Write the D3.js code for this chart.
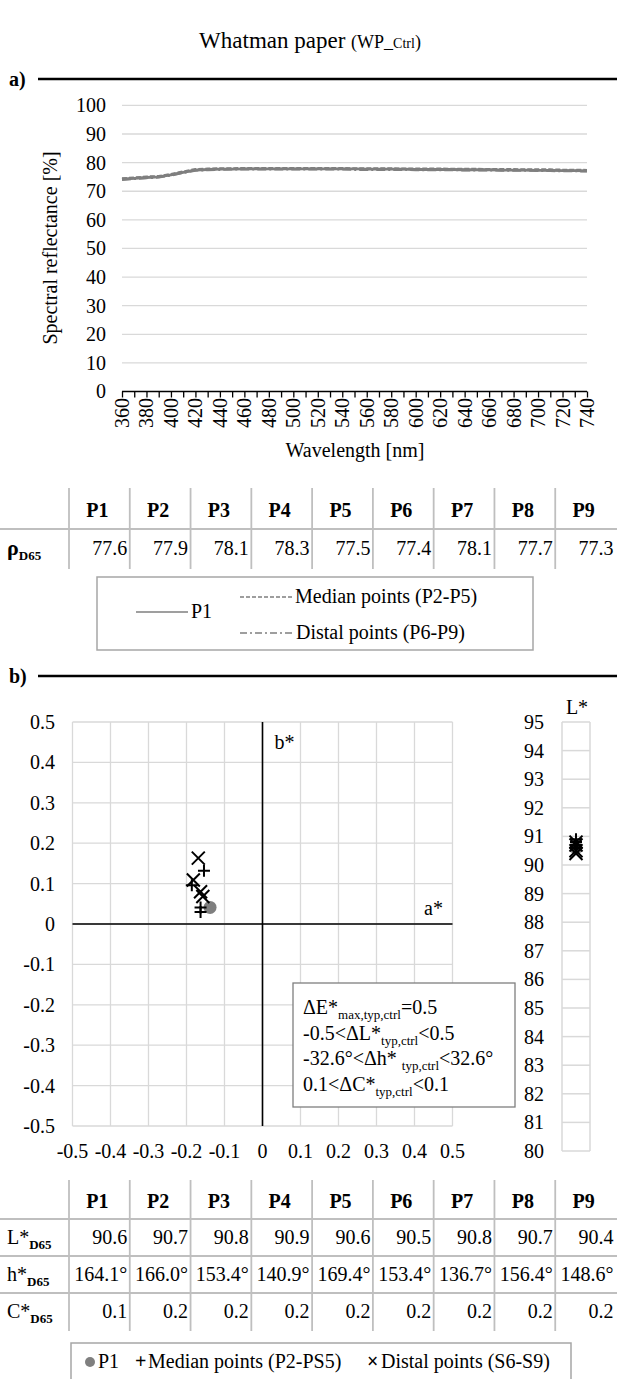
<!DOCTYPE html>
<html><head><meta charset="utf-8">
<script src="https://cdn.jsdelivr.net/npm/d3@7"></script>
<style>
body{margin:0;background:#fff}
svg{display:block}
text{font-family:"Liberation Serif","Times New Roman",serif;fill:#000}
</style>
</head><body>
<svg id="c" width="617" height="1379"></svg>
<script>
// ---------- DATA ----------
const wavelengths = [360,370,380,390,400,410,420,430,440,450,460,470,480,490,500,510,520,530,540,550,560,570,580,590,600,610,620,630,640,650,660,670,680,690,700,710,720,730,740];
const xTickLabels = [360,380,400,420,440,460,480,500,520,540,560,580,600,620,640,660,680,700,720,740];
const yTickLabels = [0,10,20,30,40,50,60,70,80,90,100];
const reflP1      = [74.2,74.5,74.8,75.0,75.7,76.6,77.4,77.6,77.7,77.7,77.8,77.8,77.8,77.8,77.8,77.8,77.8,77.8,77.8,77.8,77.7,77.7,77.7,77.7,77.6,77.6,77.6,77.6,77.5,77.5,77.5,77.4,77.4,77.4,77.3,77.3,77.2,77.2,77.1];
const reflMedian  = [74.4,74.7,75.0,75.2,75.9,76.8,77.6,77.8,77.9,77.9,78.0,78.0,78.0,78.0,78.0,78.0,78.0,78.0,78.0,77.9,77.9,77.9,77.9,77.8,77.8,77.8,77.8,77.7,77.7,77.7,77.6,77.6,77.6,77.5,77.5,77.5,77.4,77.4,77.3];
const reflDistal  = [74.1,74.4,74.7,74.9,75.6,76.5,77.3,77.5,77.6,77.7,77.7,77.7,77.7,77.7,77.7,77.7,77.7,77.7,77.7,77.6,77.6,77.6,77.6,77.6,77.5,77.5,77.5,77.5,77.4,77.4,77.4,77.3,77.3,77.3,77.2,77.2,77.1,77.1,77.0];
const points  = ["P1","P2","P3","P4","P5","P6","P7","P8","P9"];
const rhoD65  = ["77.6","77.9","78.1","78.3","77.5","77.4","78.1","77.7","77.3"];
const lStar   = [90.6,90.7,90.8,90.9,90.6,90.5,90.8,90.7,90.4];
const hStar   = ["164.1°","166.0°","153.4°","140.9°","169.4°","153.4°","136.7°","156.4°","148.6°"];
const cStar   = ["0.1","0.2","0.2","0.2","0.2","0.2","0.2","0.2","0.2"];
const aStar   = [-0.138,-0.163,-0.186,-0.154,-0.163,-0.163,-0.169,-0.157,-0.182];
const bStar   = [0.041,0.041,0.096,0.132,0.030,0.080,0.163,0.068,0.109];
const groups  = ["P1","median","median","median","median","distal","distal","distal","distal"];
const abTicks = [-0.5,-0.4,-0.3,-0.2,-0.1,0,0.1,0.2,0.3,0.4,0.5];
const lTicks  = [80,81,82,83,84,85,86,87,88,89,90,91,92,93,94,95];

// ---------- SETUP ----------
const svg = d3.select("#c");
const GRID = "#d9d9d9", SER = "#7f7f7f", TBL = "#bfbfbf";
const FS = 20;

// Title
const title = svg.append("text").attr("x", 310).attr("y", 48).attr("text-anchor","middle").attr("font-size", 23);
title.append("tspan").text("Whatman paper ");
title.append("tspan").attr("font-size", 18).text("(WP_");
title.append("tspan").attr("font-size", 14).text("Ctrl");
title.append("tspan").attr("font-size", 18).text(")");

function sectionHeader(label, y) {
  svg.append("text").attr("x", 9).attr("y", y + 7).attr("font-size", 20).attr("font-weight", "bold").text(label);
  svg.append("line").attr("x1", 38).attr("x2", 617).attr("y1", y).attr("y2", y).attr("stroke", "#000").attr("stroke-width", 2.5);
}
sectionHeader("a)", 79);

// ---------- a) Spectral reflectance ----------
const x1 = d3.scaleLinear().domain([360, 740]).range([122, 587]);
const y1 = d3.scaleLinear().domain([0, 100]).range([391.5, 105.4]);

svg.append("g").selectAll("line").data(yTickLabels.filter(v => v > 0)).join("line")
  .attr("x1", 122).attr("x2", 587).attr("y1", d => y1(d)).attr("y2", d => y1(d))
  .attr("stroke", GRID).attr("stroke-width", 1.3);

const yAx1 = svg.append("g").attr("transform", "translate(122,0)")
  .call(d3.axisLeft(y1).tickValues(yTickLabels).tickSize(0).tickPadding(16).tickFormat(d3.format("d")));
yAx1.select(".domain").remove();
yAx1.selectAll("text").attr("font-size", FS).attr("font-family", "Liberation Serif").attr("fill", "#000");

const xAx1 = svg.append("g").attr("transform", "translate(0,391.5)")
  .call(d3.axisBottom(x1).tickValues(wavelengths).tickSize(6).tickFormat(""));
xAx1.select(".domain").attr("stroke", "#000").attr("stroke-width", 1.5).attr("d", "M122,0H587");
xAx1.selectAll(".tick line").attr("stroke", "#000").attr("stroke-width", 1.3);

svg.append("g").selectAll("text").data(xTickLabels).join("text")
  .attr("transform", d => `translate(${x1(d)},398) rotate(-90)`)
  .attr("text-anchor", "end").attr("dy", "0.35em").attr("font-size", FS).text(d => d);

svg.append("text").attr("transform", "translate(57,248) rotate(-90)").attr("text-anchor", "middle")
  .attr("font-size", FS).text("Spectral reflectance [%]");
svg.append("text").attr("x", 355).attr("y", 457).attr("text-anchor", "middle").attr("font-size", FS).text("Wavelength [nm]");

const line1 = d3.line().x((d, i) => x1(wavelengths[i])).y(d => y1(d));
const series = [
  {vals: reflP1, dash: null},
  {vals: reflMedian, dash: "5,2"},
  {vals: reflDistal, dash: "9,3,2,3"}
];
svg.append("g").selectAll("path").data(series).join("path")
  .attr("d", d => line1(d.vals)).attr("fill", "none").attr("stroke", SER)
  .attr("stroke-width", 2.8).attr("stroke-dasharray", d => d.dash);

// ---------- Tables ----------
const colX = d3.scaleBand().domain(points).range([69, 616]).paddingInner(0).paddingOuter(0);

function table(rows, top, rowH) {
  const g = svg.append("g");
  g.selectAll("text.h").data(points).join("text").attr("class", "h")
    .attr("x", d => colX(d) + colX.bandwidth() / 2 - 2).attr("y", top + rowH * 0.5 + 7)
    .attr("text-anchor", "middle").attr("font-size", FS).attr("font-weight", "bold").text(d => d);
  rows.forEach((r, ri) => {
    const cy = top + rowH * (ri + 1.5);
    const lab = g.append("text").attr("x", 7).attr("y", cy + 6).attr("font-size", FS);
    lab.append("tspan").attr("font-weight", r.bold ? "bold" : null).attr("font-size", r.bold ? 22 : null).text(r.label);
    lab.append("tspan").attr("font-size", 13).attr("font-weight", "bold").attr("dy", 5).text(r.sub);
    g.selectAll("text.v" + ri).data(r.vals).join("text").attr("class", "v" + ri)
      .attr("x", (d, i) => colX(points[i]) + colX.bandwidth() - 2.5).attr("y", cy + 6)
      .attr("text-anchor", "end").attr("font-size", FS).text(d => d);
    g.append("line").attr("x1", 0).attr("x2", 617).attr("y1", top + rowH * (ri + 1)).attr("y2", top + rowH * (ri + 1))
      .attr("stroke", TBL).attr("stroke-width", 2);
  });
  g.selectAll("line.sep").data(points).join("line").attr("class", "sep")
    .attr("x1", d => colX(d)).attr("x2", d => colX(d))
    .attr("y1", top - 2).attr("y2", top + rowH * (rows.length + 1) + 1)
    .attr("stroke", TBL).attr("stroke-width", 1.8);
}
table([{label: "ρ", sub: "D65", vals: rhoD65, bold: true}], 490, 39);

// Legend a)
const lg1 = svg.append("g");
lg1.append("rect").attr("x", 97).attr("y", 577).attr("width", 436).attr("height", 73)
  .attr("fill", "none").attr("stroke", "#a6a6a6").attr("stroke-width", 1.5);
const leg1 = [
  {x: 136, y: 612, tx: 191, dash: null, label: "P1"},
  {x: 240, y: 597, tx: 295, dash: "4,2", label: "Median points (P2-P5)"},
  {x: 240, y: 633, tx: 296, dash: "7,3,2,3", label: "Distal points (P6-P9)"}
];
leg1.forEach(d => {
  lg1.append("line").attr("x1", d.x).attr("x2", d.x + 52).attr("y1", d.y).attr("y2", d.y)
    .attr("stroke", SER).attr("stroke-width", 1.5).attr("stroke-dasharray", d.dash);
  lg1.append("text").attr("x", d.tx).attr("y", d.y + 6).attr("font-size", FS).text(d.label);
});

sectionHeader("b)", 676);

// ---------- b) a*b* plot ----------
const xa = d3.scaleLinear().domain([-0.5, 0.5]).range([72.5, 452.5]);
const yb = d3.scaleLinear().domain([-0.5, 0.5]).range([1126, 722]);
const gb = svg.append("g");
gb.selectAll("line.gx").data(abTicks).join("line").attr("class", "gx")
  .attr("x1", d => xa(d)).attr("x2", d => xa(d)).attr("y1", 722).attr("y2", 1126)
  .attr("stroke", GRID).attr("stroke-width", 1.3);
gb.selectAll("line.gy").data(abTicks).join("line").attr("class", "gy")
  .attr("y1", d => yb(d)).attr("y2", d => yb(d)).attr("x1", 72.5).attr("x2", 452.5)
  .attr("stroke", GRID).attr("stroke-width", 1.3);
gb.append("line").attr("x1", xa(0)).attr("x2", xa(0)).attr("y1", 722).attr("y2", 1126).attr("stroke", "#000").attr("stroke-width", 1.6);
gb.append("line").attr("x1", 72.5).attr("x2", 452.5).attr("y1", yb(0)).attr("y2", yb(0)).attr("stroke", "#000").attr("stroke-width", 1.6);

const fmt = d => d === 0 ? "0" : d3.format(".1f")(d).replace("−", "-");
gb.selectAll("text.yl").data(abTicks).join("text").attr("class", "yl")
  .attr("x", 55).attr("y", d => yb(d)).attr("dy", "0.35em").attr("text-anchor", "end").attr("font-size", FS).text(fmt);
gb.selectAll("text.xl").data(abTicks).join("text").attr("class", "xl")
  .attr("x", d => xa(d)).attr("y", 1158).attr("text-anchor", "middle").attr("font-size", FS).text(fmt);
gb.append("text").attr("x", xa(0) + 12).attr("y", yb(0.45) + 7).attr("font-size", FS).text("b*");
gb.append("text").attr("x", xa(0.45)).attr("y", yb(0.03) + 3).attr("text-anchor", "middle").attr("font-size", FS).text("a*");

// text box
const tb = svg.append("g");
tb.append("rect").attr("x", 293).attr("y", 983).attr("width", 222).attr("height", 124)
  .attr("fill", "#fff").attr("stroke", "#7f7f7f").attr("stroke-width", 1.3);
const tbLines = [
  ["ΔE*", "max,typ,ctrl", "=0.5"],
  ["-0.5<ΔL*", "typ,ctrl", "<0.5"],
  ["-32.6°<Δh* ", "typ,ctrl", "<32.6°"],
  ["0.1<ΔC*", "typ,ctrl", "<0.1"]
];
tbLines.forEach((l, i) => {
  const t = tb.append("text").attr("x", 303).attr("y", 1014 + i * 25.5).attr("font-size", FS);
  t.append("tspan").text(l[0]);
  t.append("tspan").attr("font-size", 13).attr("dy", 5).text(l[1]);
  t.append("tspan").attr("dy", -5).text(l[2]);
});

// markers
function marker(g, kind, cx, cy) {
  if (kind === "P1") {
    g.append("circle").attr("cx", cx).attr("cy", cy).attr("r", 6.5).attr("fill", SER);
  } else if (kind === "median") {
    const s = 6;
    g.append("path").attr("d", `M${cx - s},${cy}H${cx + s}M${cx},${cy - s}V${cy + s}`).attr("stroke", "#000").attr("stroke-width", 2).attr("fill", "none");
  } else {
    const s = 6.5;
    g.append("path").attr("d", `M${cx - s},${cy - s}L${cx + s},${cy + s}M${cx - s},${cy + s}L${cx + s},${cy - s}`).attr("stroke", "#000").attr("stroke-width", 2).attr("fill", "none");
  }
}
const order = [0,1,2,3,4,5,6,7,8];
const mk = svg.append("g");
order.forEach(i => marker(mk, groups[i], xa(aStar[i]), yb(bStar[i])));

// ---------- L* strip ----------
const yl = d3.scaleLinear().domain([80, 95]).range([1151, 722]);
const gl = svg.append("g");
gl.selectAll("line.lg").data(lTicks).join("line").attr("class", "lg")
  .attr("x1", 562).attr("x2", 590).attr("y1", d => yl(d)).attr("y2", d => yl(d)).attr("stroke", GRID).attr("stroke-width", 1.5);
gl.append("line").attr("x1", 562).attr("x2", 562).attr("y1", 722).attr("y2", 1151).attr("stroke", GRID).attr("stroke-width", 1.5);
gl.append("line").attr("x1", 590).attr("x2", 590).attr("y1", 722).attr("y2", 1151).attr("stroke", GRID).attr("stroke-width", 1.5);
gl.selectAll("text").data(lTicks).join("text").attr("x", 544).attr("y", d => yl(d)).attr("dy", "0.35em")
  .attr("text-anchor", "end").attr("font-size", FS).text(d => d);
gl.append("text").attr("x", 577).attr("y", 714).attr("text-anchor", "middle").attr("font-size", FS).text("L*");
order.forEach(i => marker(gl, groups[i], 576, yl(lStar[i])));

// ---------- Table b) ----------
table([
  {label: "L*", sub: "D65", vals: lStar.map(v => v.toFixed(1))},
  {label: "h*", sub: "D65", vals: hStar},
  {label: "C*", sub: "D65", vals: cStar}
], 1182, 37);

// Legend b)
const lg2 = svg.append("g");
lg2.append("rect").attr("x", 71).attr("y", 1343).attr("width", 500).attr("height", 45)
  .attr("fill", "none").attr("stroke", "#a6a6a6").attr("stroke-width", 1.5);
lg2.append("circle").attr("cx", 90).attr("cy", 1362).attr("r", 5).attr("fill", SER);
lg2.append("text").attr("x", 98).attr("y", 1368).attr("font-size", FS).text("P1");
lg2.append("text").attr("x", 135).attr("y", 1368).attr("font-size", FS).attr("font-weight", "bold").text("+");
lg2.append("text").attr("x", 148).attr("y", 1368).attr("font-size", FS).text("Median points (P2-PS5)");
lg2.append("text").attr("x", 367).attr("y", 1368).attr("font-size", FS).attr("font-weight", "bold").text("×");
lg2.append("text").attr("x", 381).attr("y", 1368).attr("font-size", FS).text("Distal points (S6-S9)");
</script>
</body></html>
